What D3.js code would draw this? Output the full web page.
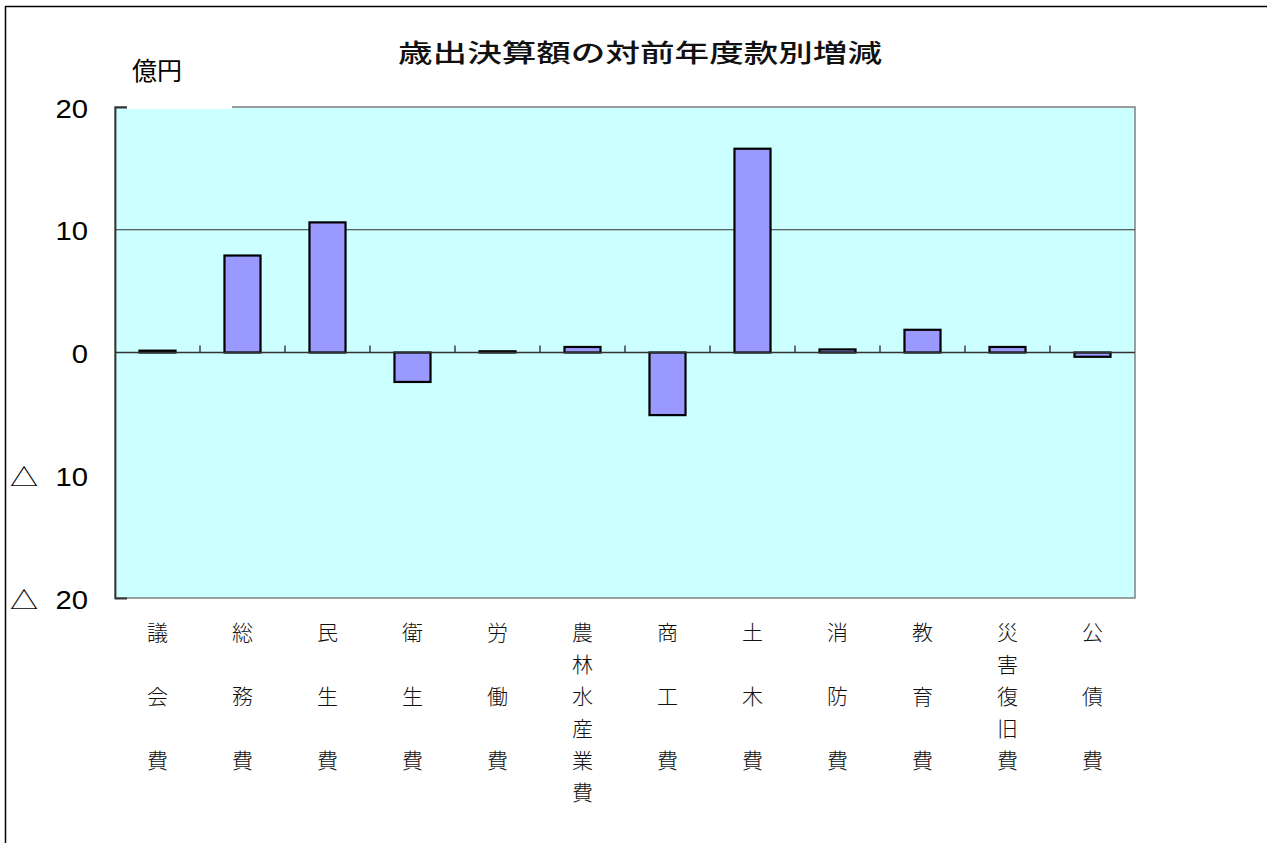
<!DOCTYPE html>
<html lang="ja">
<head>
<meta charset="utf-8">
<script src="https://cdn.jsdelivr.net/npm/d3@7"></script>
<style>
  html, body { margin: 0; padding: 0; background: #fff; }
  svg { display: block; }
</style>
</head>
<body>
<svg id="chart" width="1267" height="843"></svg>
<script>
// 款別の対前年度増減額（億円）
const categories = ["議\n\n会\n\n費", "総\n\n務\n\n費", "民\n\n生\n\n費", "衛\n\n生\n\n費",
  "労\n\n働\n\n費", "農\n林\n水\n産\n業\n費", "商\n\n工\n\n費", "土\n\n木\n\n費",
  "消\n\n防\n\n費", "教\n\n育\n\n費", "災\n害\n復\n旧\n費", "公\n\n債\n\n費"];
const changes = [0.15, 7.9, 10.6, -2.4, 0.1, 0.45, -5.1, 16.6, 0.25, 1.85, 0.45, -0.35];
const tickValues = [20, 10, 0, -10, -20];
const tickLabels = ["20", "10", "0", "△ 10", "△ 20"];
const gridValues = [10];
const title = "歳出決算額の対前年度款別増減";
const unitLabel = "億円";

const svg = d3.select("#chart");
const plot = { left: 115, right: 1135, top: 107, bottom: 598 };

// chart frame (only top/left edges fall inside the page)
svg.append("line").attr("x1", 5).attr("x2", 1267).attr("y1", 6.5).attr("y2", 6.5)
  .attr("stroke", "#000").attr("stroke-width", 1.5);
svg.append("line").attr("x1", 5.5).attr("x2", 5.5).attr("y1", 6).attr("y2", 843)
  .attr("stroke", "#000").attr("stroke-width", 1.5);

const x = d3.scaleBand()
  .domain(categories)
  .range([plot.left, plot.right])
  .paddingInner(0.576)
  .paddingOuter(0.288);

const y = d3.scaleLinear().domain([-20, 20]).range([plot.bottom, plot.top]);

// plot area
svg.append("rect")
  .attr("x", plot.left).attr("y", plot.top)
  .attr("width", plot.right - plot.left).attr("height", plot.bottom - plot.top)
  .attr("fill", "#ccffff").attr("stroke", "#808080").attr("stroke-width", 1.5);

// unit label box sits over the top border
svg.append("rect").attr("x", 127).attr("y", 100).attr("width", 105).attr("height", 9).attr("fill", "#fff");
svg.append("text")
  .attr("x", 132).attr("y", 80)
  .attr("font-family", "'Noto Sans CJK JP', sans-serif")
  .attr("font-size", 25).attr("fill", "#000")
  .text(unitLabel);

// title
svg.append("text")
  .attr("x", 398).attr("y", 62)
  .attr("font-family", "'Noto Sans CJK JP', sans-serif")
  .attr("font-size", 25).attr("font-weight", 500).attr("fill", "#111")
  .attr("textLength", 484).attr("lengthAdjust", "spacingAndGlyphs")
  .text(title);

// gridlines
svg.append("g").selectAll("line").data(gridValues).join("line")
  .attr("x1", plot.left).attr("x2", plot.right)
  .attr("y1", d => y(d)).attr("y2", d => y(d))
  .attr("stroke", "#333").attr("stroke-width", 1.2);

// bars
svg.append("g").selectAll("rect").data(changes).join("rect")
  .attr("x", (d, i) => x(categories[i]))
  .attr("width", x.bandwidth())
  .attr("y", d => y(Math.max(0, d)))
  .attr("height", d => Math.abs(y(d) - y(0)))
  .attr("fill", "#9999ff").attr("stroke", "#000").attr("stroke-width", 2.2);

// zero line with category separators
const gap = (x.step() - x.bandwidth()) / 2;
svg.append("line")
  .attr("x1", plot.left).attr("x2", plot.right)
  .attr("y1", y(0)).attr("y2", y(0))
  .attr("stroke", "#333").attr("stroke-width", 1.4);
svg.append("g").selectAll("line").data(categories.slice(1)).join("line")
  .attr("x1", d => x(d) - gap).attr("x2", d => x(d) - gap)
  .attr("y1", y(0)).attr("y2", y(0) - 7)
  .attr("stroke", "#333").attr("stroke-width", 1.4);

// value axis
const yAxis = d3.axisLeft(y)
  .tickValues(tickValues)
  .tickSizeInner(0)
  .tickSizeOuter(-12)
  .tickFormat((d, i) => tickLabels[i]);
const ay = svg.append("g").attr("transform", `translate(${plot.left},0)`).call(yAxis);
ay.select(".domain").attr("stroke", "#333").attr("stroke-width", 1.8);
ay.selectAll(".tick line").remove();
ay.selectAll(".tick text")
  .attr("x", 0).attr("dy", null).attr("y", 10)
  .attr("transform", "translate(-27,0) scale(1.17,1)")
  .attr("font-family", "'Liberation Sans', 'DejaVu Sans', sans-serif")
  .attr("font-size", 25).attr("fill", "#000")
  .attr("text-anchor", "end")
  .each(function (d, i) {
    const label = tickLabels[i];
    const t = d3.select(this).text(null);
    if (label.startsWith("△")) {
      t.append("tspan").attr("font-family", "'Noto Sans CJK JP', sans-serif").attr("font-size", 24).text("△");
      t.append("tspan").attr("dx", 8).text("\u00a0" + label.slice(2));
    } else {
      t.text(label);
    }
  });

// vertical category labels
const lineStep = 32;
const labels = svg.append("g")
  .attr("font-family", "'Noto Sans CJK JP', sans-serif")
  .attr("font-size", 21).attr("font-weight", 300).attr("fill", "#111").attr("text-anchor", "middle");
categories.forEach(c => {
  const t = labels.append("text").attr("x", x(c) + x.bandwidth() / 2).attr("y", 640);
  c.split("\n").forEach((ch, k) => {
    if (ch) t.append("tspan").attr("x", x(c) + x.bandwidth() / 2).attr("y", 640 + k * lineStep).text(ch);
  });
});
</script>
</body>
</html>
